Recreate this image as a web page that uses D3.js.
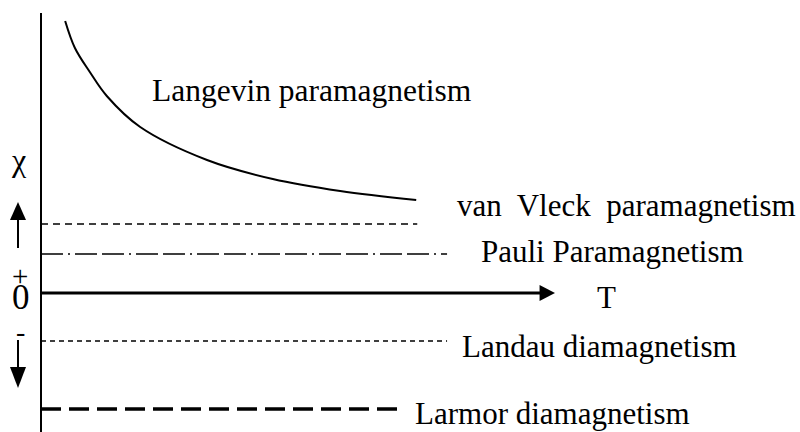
<!DOCTYPE html>
<html>
<head>
<meta charset="utf-8">
<script src="https://cdn.jsdelivr.net/npm/d3@7"></script>
<style>
  body { margin: 0; background: #fff; }
  svg { display: block; }
  text { font-family: "Liberation Serif", "Times New Roman", serif; fill: #000; white-space: pre; }
</style>
</head>
<body>
<div class="chart"></div>
<script>
// Langevin (Curie-like) curve: T vs chi
const langevinT   = [0.47, 0.66, 0.95, 1.28, 1.93, 3.23, 4.51, 5.82, 7.30];
const langevinChi = [5.44, 4.90, 4.42, 3.94, 3.32, 2.66, 2.28, 2.04, 1.86];

// temperature-independent contributions
const levelNames  = ["van Vleck", "Pauli", "Landau", "Larmor"];
const levelValues = [1.38, 0.78, -0.96, -2.32];
const levelEnds   = [7.32, 7.90, 7.90, 7.04];

const labels = ["Langevin paramagnetism", "van  Vleck  paramagnetism", "Pauli Paramagnetism",
                "Landau diamagnetism", "Larmor diamagnetism"];

const width = 800, height = 432;

const svg = d3.select('.chart')
    .append('svg')
    .attr('width', width)
    .attr('height', height);

const xScale = d3.scaleLinear().domain([0, 10]).range([41, 555]);
const yScale = d3.scaleLinear().domain([-2.4, 5.6]).range([413, 13]);

// line styles per level
const styles = {
    "van Vleck": {w: 1.5, dash: "7,5"},
    "Pauli":     {w: 1.5, dash: "22,5,2,5,22,5"},
    "Landau":    {w: 1.4, dash: "5,4"},
    "Larmor":    {w: 3.5, dash: "20,8"}
};

svg.append('g')
    .selectAll('line')
    .data(levelNames)
    .enter()
    .append('line')
        .attr('x1', xScale(0))
        .attr('x2', (d, i) => xScale(levelEnds[i]))
        .attr('y1', (d, i) => yScale(levelValues[i]))
        .attr('y2', (d, i) => yScale(levelValues[i]))
        .attr('stroke', '#000')
        .attr('stroke-width', d => styles[d].w)
        .attr('stroke-dasharray', d => styles[d].dash);

// Langevin curve
const line = d3.line()
    .x(d => xScale(d[0]))
    .y(d => yScale(d[1]))
    .curve(d3.curveCatmullRom.alpha(0.5));

svg.append('path')
    .datum(d3.zip(langevinT, langevinChi))
    .attr('d', line)
    .attr('fill', 'none')
    .attr('stroke', '#000')
    .attr('stroke-width', 2);

// vertical axis
svg.append('line')
    .attr('x1', xScale(0)).attr('x2', xScale(0))
    .attr('y1', yScale(5.6)).attr('y2', height)
    .attr('stroke', '#000')
    .attr('stroke-width', 2);

// T axis with arrow
svg.append('line')
    .attr('x1', xScale(0)).attr('x2', xScale(9.75))
    .attr('y1', yScale(0)).attr('y2', yScale(0))
    .attr('stroke', '#000')
    .attr('stroke-width', 3);

const y0 = yScale(0);
svg.append('path')
    .attr('d', `M${xScale(10)},${y0} L${xScale(9.7)},${y0 - 8} L${xScale(9.7)},${y0 + 8} Z`)
    .attr('fill', '#000');

// up / down arrows next to chi
const ax = 18;
svg.append('line')
    .attr('x1', ax).attr('x2', ax)
    .attr('y1', yScale(0.9)).attr('y2', yScale(1.5))
    .attr('stroke', '#000').attr('stroke-width', 2);
svg.append('path')
    .attr('d', `M${ax},${yScale(1.82)} L${ax - 8},${yScale(1.46)} L${ax + 8},${yScale(1.46)} Z`)
    .attr('fill', '#000');
svg.append('line')
    .attr('x1', ax).attr('x2', ax)
    .attr('y1', yScale(-0.94)).attr('y2', yScale(-1.5))
    .attr('stroke', '#000').attr('stroke-width', 2);
svg.append('path')
    .attr('d', `M${ax},${yScale(-1.9)} L${ax - 8},${yScale(-1.48)} L${ax + 8},${yScale(-1.48)} Z`)
    .attr('fill', '#000');

// texts
const texts = [
    {t: labels[0], x: 152, y: 101, s: 31.5},
    {t: labels[1], x: 457, y: 216, s: 31},
    {t: labels[2], x: 481, y: 262, s: 31},
    {t: "T",       x: 597, y: 308, s: 31},
    {t: labels[3], x: 462, y: 357, s: 31},
    {t: labels[4], x: 415, y: 424, s: 31},
    {t: "χ",       x: 12,  y: 171, s: 32},
    {t: "+",       x: 12,  y: 286, s: 29},
    {t: "0",       x: 12,  y: 309, s: 35},
    {t: "-",       x: 16,  y: 341, s: 28}
];

svg.append('g')
    .selectAll('text')
    .data(texts)
    .enter()
    .append('text')
        .attr('x', d => d.x)
        .attr('y', d => d.y)
        .style('font-size', d => d.s + 'px')
        .text(d => d.t);
</script>
</body>
</html>
